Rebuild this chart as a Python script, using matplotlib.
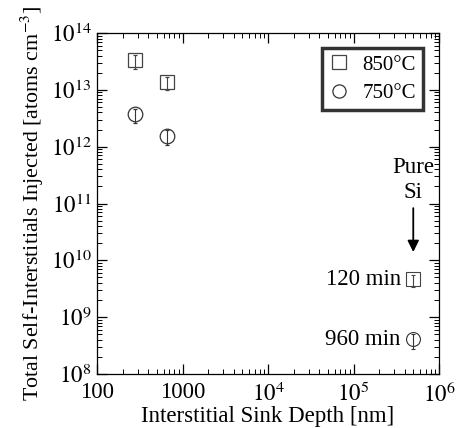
import matplotlib
matplotlib.use("Agg")
import matplotlib.pyplot as plt
from matplotlib.lines import Line2D
import numpy as np

plt.rcParams['font.family'] = ['Liberation Serif', 'DejaVu Serif']
plt.rcParams['mathtext.fontset'] = 'stix'

# Data
depth_850 = [275, 650]
inj_850 = [3.3e13, 1.4e13]
lo_850 = [2.3e13, 1.0e13]
depth_750 = [275, 650]
inj_750 = [3.75e12, 1.55e12]
lo_750 = [2.6e12, 1.05e12]
pure_si_depth = 5e5
pure_si_120 = 4.6e9
pure_si_120_lo = 3.4e9
pure_si_960 = 4.1e8
pure_si_960_lo = 2.8e8

xticks = [100, 1000, 1e4, 1e5, 1e6]
xticklabels = ['100', '1000', r'$10^{4}$', r'$10^{5}$', r'$10^{6}$']
yticks = [1e8, 1e9, 1e10, 1e11, 1e12, 1e13, 1e14]
yticklabels = [r'$10^{%d}$' % k for k in range(8, 15)]

FS = 16.5

fig = plt.figure(figsize=(4.61, 4.28), dpi=100)
ax = fig.add_axes([97/461, 54/428, 342/461, 341/428])
ax.set_xscale('log')
ax.set_yscale('log')
ax.set_xlim(100, 1e6)
ax.set_ylim(1e8, 1e14)

def err(vals, lows):
    v = np.array(vals); l = np.array(lows)
    lower = v - l
    upper = v * (v / l) ** 0.6 - v
    return [lower, upper]

ms = 10.5
c1 = '#444444'
c2 = '#333333'
ax.errorbar(depth_850, inj_850, yerr=err(inj_850, lo_850), fmt='s', mfc='none',
            mec=c1, ms=ms, mew=0.9, ecolor=c1, elinewidth=0.8, capsize=1.2)
ax.errorbar(depth_750, inj_750, yerr=err(inj_750, lo_750), fmt='o', mfc='none',
            mec=c2, ms=ms, mew=0.9, ecolor=c2, elinewidth=0.8, capsize=1.2)
ax.errorbar([pure_si_depth], [pure_si_120], yerr=err([pure_si_120], [pure_si_120_lo]),
            fmt='s', mfc='none', mec=c1, ms=ms - 1, mew=0.8,
            ecolor=c1, elinewidth=0.8, capsize=1.2)
ax.errorbar([pure_si_depth], [pure_si_960], yerr=err([pure_si_960], [pure_si_960_lo]),
            fmt='o', mfc='none', mec=c2, ms=ms - 0.5, mew=0.8,
            ecolor=c2, elinewidth=0.8, capsize=1.2)

ax.annotate('120 min', xy=(pure_si_depth, pure_si_120), xytext=(-8.5, 0),
            textcoords='offset points', ha='right', va='center', fontsize=FS)
ax.annotate('960 min', xy=(pure_si_depth, pure_si_960), xytext=(-9, 0),
            textcoords='offset points', ha='right', va='center', fontsize=FS)
ax.annotate('', xy=(pure_si_depth, 1.4e10), xytext=(pure_si_depth, 8.3e10),
            arrowprops=dict(arrowstyle='-|>', color='black', lw=1.3,
                            mutation_scale=17, shrinkA=0, shrinkB=0))
ax.text(pure_si_depth, 2.6e11, 'Pure\nSi', ha='center', va='center', fontsize=FS,
        multialignment='center', linespacing=1.2)

ax.set_xticks(xticks)
ax.set_xticklabels(xticklabels)
ax.set_yticks(yticks)
ax.set_yticklabels(yticklabels)
ax.tick_params(which='both', direction='in', top=True, right=True, labelsize=FS)
ax.tick_params(which='major', length=7, width=0.9)
ax.tick_params(which='minor', length=3.5, width=0.7)
ax.yaxis.set_minor_locator(matplotlib.ticker.LogLocator(base=10, subs=np.arange(2, 10), numticks=20))
ax.yaxis.set_minor_formatter(matplotlib.ticker.NullFormatter())
ax.xaxis.set_minor_locator(matplotlib.ticker.LogLocator(base=10, subs=np.arange(2, 10), numticks=20))
ax.xaxis.set_minor_formatter(matplotlib.ticker.NullFormatter())
for s in ax.spines.values():
    s.set_linewidth(0.9)
ax.tick_params(axis='x', pad=6)
ax.tick_params(axis='y', pad=4)

ax.set_xlabel('Interstitial Sink Depth [nm]', fontsize=FS, labelpad=-1)
ax.set_ylabel(r'Total Self-Interstitials Injected [atoms cm$^{-3}$]', fontsize=15.8,
              labelpad=3)

handles = [Line2D([], [], ls='none', marker='s', mfc='none', mec=c1, ms=9.5, mew=0.9),
           Line2D([], [], ls='none', marker='o', mfc='none', mec=c2, ms=9.5, mew=0.9)]
leg = ax.legend(handles, ['850°C', '750°C'], loc='upper right',
                bbox_to_anchor=(0.953, 0.957), fontsize=15,
                frameon=True, fancybox=False, handletextpad=0.6, borderpad=0.35,
                handlelength=1.0, labelspacing=0.42, borderaxespad=0)
leg.get_frame().set_edgecolor('black')
leg.get_frame().set_linewidth(2.5)

fig.savefig('out.png', dpi=100)
